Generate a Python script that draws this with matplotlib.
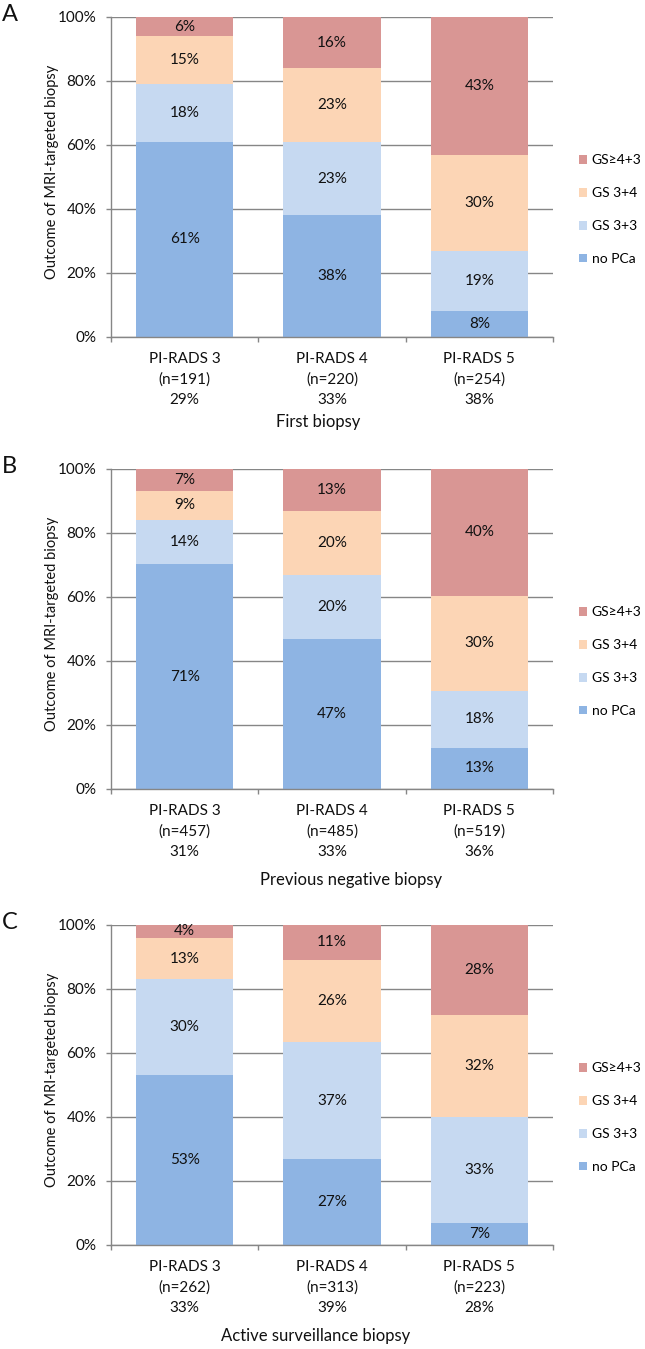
import numpy as np
import matplotlib
matplotlib.use("Agg")
from matplotlib import pyplot as plt
from matplotlib.patches import Patch

plt.rcParams['font.family'] = ['Lato', 'DejaVu Sans']

categories = ["PI-RADS 3", "PI-RADS 4", "PI-RADS 5"]
series = ["no PCa", "GS 3+3", "GS 3+4", "GS\u22654+3"]
colors = ["#8eb4e3", "#c6d9f1", "#fcd5b5", "#d99694"]

# panel A - first biopsy
a_n = [191, 220, 254]
a_share = [29, 33, 38]
a_no_pca = [61, 38, 8]
a_gs33 = [18, 23, 19]
a_gs34 = [15, 23, 30]
a_gs43 = [6, 16, 43]

# panel B - previous negative biopsy
b_n = [457, 485, 519]
b_share = [31, 33, 36]
b_no_pca = [71, 47, 13]
b_gs33 = [14, 20, 18]
b_gs34 = [9, 20, 30]
b_gs43 = [7, 13, 40]

# panel C - active surveillance biopsy
c_n = [262, 313, 223]
c_share = [33, 39, 28]
c_no_pca = [53, 27, 7]
c_gs33 = [30, 37, 33]
c_gs34 = [13, 26, 32]
c_gs43 = [4, 11, 28]

panels = [
    ("A", "First biopsy", a_n, a_share, [a_no_pca, a_gs33, a_gs34, a_gs43]),
    ("B", "Previous negative biopsy", b_n, b_share, [b_no_pca, b_gs33, b_gs34, b_gs43]),
    ("C", "Active surveillance biopsy", c_n, c_share, [c_no_pca, c_gs33, c_gs34, c_gs43]),
]

W, H = 645, 1349
ax_left, ax_w, ax_h = 111, 442, 320
ax_tops = [17, 469, 925]
xlabel_x = [318, 351, 316]
xlabel_dy = [85, 91, 91]
line_dy = [22, 42.5, 63]
grey = "#868686"
fs = 11

fig = plt.figure(figsize=(W / 100, H / 100), dpi=100)

for i, (letter, title, n, share, vals) in enumerate(panels):
    top = ax_tops[i]
    ax = fig.add_axes([ax_left / W, 1 - (top + ax_h) / H, ax_w / W, ax_h / H])
    vals = np.array(vals, dtype=float)
    pct = vals / vals.sum(axis=0) * 100  # 100% stacked like excel
    x = np.arange(len(categories))
    bottom = np.zeros(len(categories))
    for k in range(len(series)):
        ax.bar(x, pct[k], 0.66, bottom=bottom, color=colors[k], linewidth=0, zorder=2)
        for j in range(len(categories)):
            ax.text(x[j], bottom[j] + pct[k][j] / 2, "%d%%" % vals[k][j],
                    ha="center", va="center", fontsize=fs, color="#111111", zorder=3)
        bottom += pct[k]

    ax.set_xlim(-0.5, 2.5)
    ax.set_ylim(0, 100)
    ax.set_yticks(np.arange(0, 101, 20))
    ax.set_yticklabels(["%d%%" % v for v in range(0, 101, 20)])
    ax.set_xticks([-0.5, 0.5, 1.5, 2.5])
    ax.set_xticklabels([])
    ax.yaxis.grid(True, color=grey, linewidth=1.0)
    ax.set_axisbelow(True)
    for s in ["top", "right"]:
        ax.spines[s].set_visible(False)
    for s in ["left", "bottom"]:
        ax.spines[s].set_color(grey)
        ax.spines[s].set_linewidth(1.0)
    ax.tick_params(axis="y", direction="out", length=3.6, width=1, color=grey,
                   labelsize=fs, labelcolor="#111111", pad=7)
    ax.tick_params(axis="x", direction="out", length=3.6, width=1, color=grey)

    # category labels under the bars
    for j in range(len(categories)):
        lines = [categories[j], "(n=%d)" % n[j], "%d%%" % share[j]]
        for t, dy in zip(lines, line_dy):
            ax.text(x[j], -dy / ax_h, t, transform=ax.get_xaxis_transform(),
                    ha="center", va="center", fontsize=fs, color="#111111")

    ax.text((xlabel_x[i] - ax_left) / ax_w, -xlabel_dy[i] / ax_h, title,
            transform=ax.transAxes, ha="center", va="center", fontsize=12, color="#111111")
    ax.text((52 - ax_left) / ax_w, 0.515, "Outcome of MRI-targeted biopsy",
            transform=ax.transAxes, rotation=90, ha="center", va="center",
            fontsize=10.5, color="#111111")

    handles = [Patch(facecolor=colors[k], edgecolor="none") for k in range(len(series))][::-1]
    ax.legend(handles, series[::-1], loc="center left", bbox_to_anchor=(1.058, 0.398),
              frameon=False, fontsize=10, handlelength=0.6, handleheight=0.6,
              handletextpad=0.35, labelspacing=1.5, borderpad=0, borderaxespad=0)

    fig.text(2 / W, 1 - (top - 13) / H, letter, ha="left", va="top", fontsize=17, color="#111111")

fig.savefig("out.png", dpi=100)
